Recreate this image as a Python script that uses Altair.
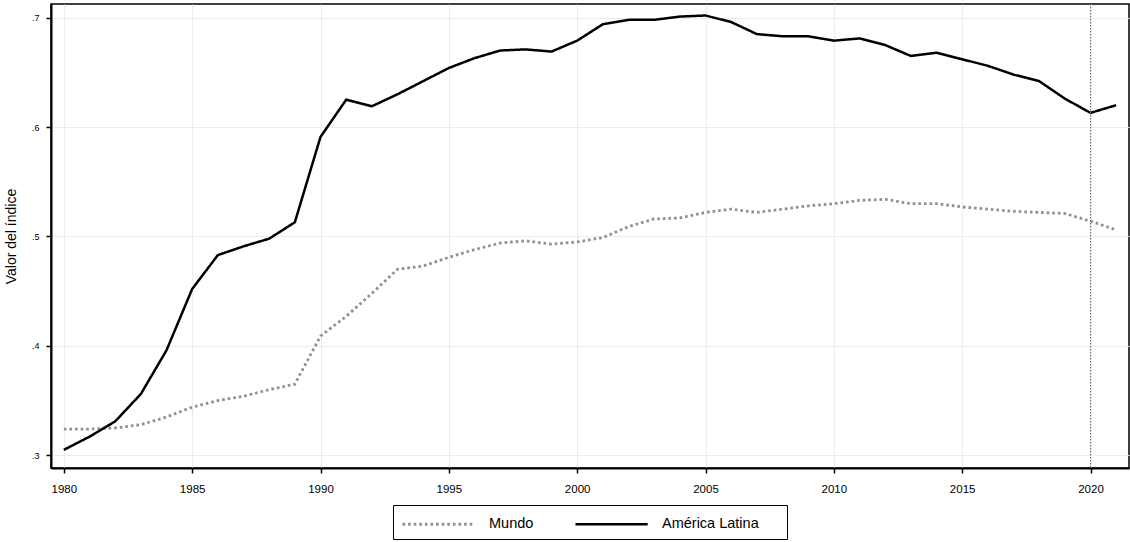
import altair as alt
import pandas as pd

# Index values by year, 1980-2021
years = list(range(1980, 2022))

america_latina = [
    0.305, 0.317, 0.331, 0.356, 0.396, 0.452, 0.483, 0.491, 0.498, 0.513,
    0.591, 0.625, 0.619, 0.630, 0.642, 0.654, 0.663, 0.670, 0.671, 0.669,
    0.679, 0.694, 0.698, 0.698, 0.701, 0.702, 0.696, 0.685, 0.683, 0.683,
    0.679, 0.681, 0.675, 0.665, 0.668, 0.662, 0.656, 0.648, 0.642, 0.626,
    0.613, 0.620,
]

mundo = [
    0.324, 0.324, 0.325, 0.328, 0.335, 0.344, 0.350, 0.354, 0.360, 0.365,
    0.409, 0.427, 0.448, 0.470, 0.473, 0.481, 0.488, 0.494, 0.496, 0.493,
    0.495, 0.499, 0.509, 0.516, 0.517, 0.522, 0.525, 0.522, 0.525, 0.528,
    0.530, 0.533, 0.534, 0.530, 0.530, 0.527, 0.525, 0.523, 0.522, 0.521,
    0.514, 0.506,
]

series_names = ["Mundo", "América Latina"]
x_ticks = [1980, 1985, 1990, 1995, 2000, 2005, 2010, 2015, 2020]
y_ticks = [0.3, 0.4, 0.5, 0.6, 0.7]
marker_years = [2020]

df = pd.concat([
    pd.DataFrame({"year": years, "value": mundo, "serie": series_names[0]}),
    pd.DataFrame({"year": years, "value": america_latina, "serie": series_names[1]}),
])
marker_df = pd.DataFrame({"year": marker_years})

FONT = "Liberation Sans"

x_scale = alt.Scale(domain=[1979.5, 2021.5], nice=False, zero=False)
y_scale = alt.Scale(domain=[0.2884, 0.7125], nice=False, zero=False)

# a blank title on the right leaves some extra room inside the legend frame
legend = alt.Legend(title="\u00a0", titleOrient="right", titlePadding=20,
                    titleFontSize=4)

lines = alt.Chart(df).mark_line(strokeCap="butt", strokeJoin="miter").encode(
    x=alt.X("year:Q", scale=x_scale,
            axis=alt.Axis(values=x_ticks, format="d", title=None, grid=True,
                          labelFontSize=11.5, labelPadding=10, tickSize=5)),
    y=alt.Y("value:Q", scale=y_scale,
            axis=alt.Axis(values=y_ticks, title="Valor del índice", grid=True,
                          labelExpr="replace(format(datum.value, '.1f'), '0.', '.')",
                          labelFontSize=9, labelPadding=7, tickSize=5,
                          titleFontSize=14, titlePadding=13)),
    color=alt.Color("serie:N",
                    scale=alt.Scale(domain=series_names, range=["#8f8f8f", "#000000"]),
                    legend=legend),
    strokeDash=alt.StrokeDash("serie:N",
                              scale=alt.Scale(domain=series_names, range=[[2.6, 3], [1, 0]]),
                              legend=legend),
    strokeWidth=alt.StrokeWidth("serie:N",
                                scale=alt.Scale(domain=series_names, range=[2.8, 2.5]),
                                legend=None),
    order=alt.Order("year:Q"),
)

marker = alt.Chart(marker_df).mark_rule(
    color="#666666", strokeWidth=1, strokeDash=[1.5, 1.5]
).encode(x=alt.X("year:Q", scale=x_scale))

# Legend key: a long horizontal stroke drawn from a short nominal symbol box
chart = (
    alt.layer(lines, marker)
    .properties(
        width=1078,
        height=464,
        autosize=alt.AutoSizeParams(type="none"),
        padding={"left": 51, "top": 4, "right": 1, "bottom": 74},
        background="white",
    )
    .configure_view(stroke="black", strokeWidth=1.5)
    .configure_axis(
        labelFont=FONT, titleFont=FONT, labelColor="black", titleColor="black",
        titleFontWeight="normal", gridColor="#ececec", gridWidth=1,
        domainColor="black", domainWidth=2, tickColor="black", tickWidth=1.5,
    )
    .configure_legend(
        orient="none", legendX=342, legendY=501, direction="horizontal",
        labelFont=FONT, labelFontSize=14.5, labelColor="black",
        symbolType="M-1,0L6.6,0", symbolSize=361, symbolStrokeWidth=2.6,
        symbolFillColor="transparent",
        labelOffset=66, columnPadding=36, padding=8,
        strokeColor="black", fillColor="white", cornerRadius=0,
    )
)

chart.save("out.html", embed_options={"renderer": "svg", "actions": False})
